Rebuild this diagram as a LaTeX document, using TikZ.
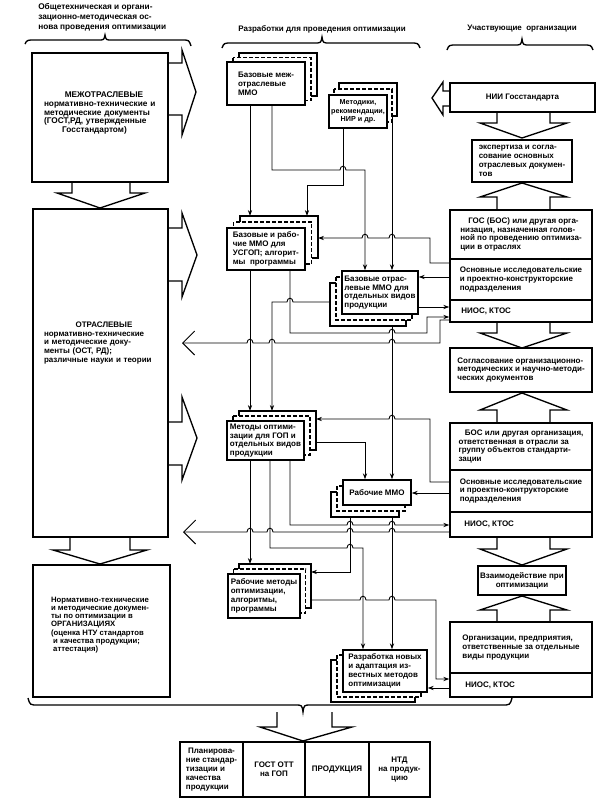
\documentclass[tikz,border=0pt]{standalone}
\usepackage{fontspec}
\setmainfont{Liberation Sans}
\usetikzlibrary{arrows.meta,fit}
\tikzset{
  bx/.style={draw, line width=1.1pt, inner sep=0pt, fill=white},
  layer/.style={draw, line width=0.8pt, fill=white},
  tx/.style={inner sep=0pt, align=center, font=\fontsize{6}{6.6}\selectfont\bfseries},
  txl/.style={tx, align=left},
  txs/.style={tx, font=\fontsize{5.4}{6.4}\selectfont\bfseries},
  ln/.style={line width=0.7pt},
  arr/.style={ln, -{Stealth[length=4.5pt,width=3.2pt]}},
  oarr/.style={ln, -{Straight Barb[length=9pt,width=18pt]}},
  blk/.style={line width=1pt, line join=miter},
  brc/.style={line width=1pt},
}
\newcommand{\stk}[9]{%
  \draw[layer] ({#2+2*(#6)},{#3+2*(#7)}) rectangle ({#4+2*(#6)},{#5+2*(#7)});
  \draw[layer,dash pattern=on 3pt off 1.5pt] ({#2+(#6)},{#3+(#7)}) rectangle ({#4+(#6)},{#5+(#7)});
  \node[bx, fit={(#2,#3)(#4,#5)}] (#1) {};
  \node[#8] (#1-t) at (#1.center) {#9};
}
\begin{document}
\begin{tikzpicture}[x=0.75pt,y=-0.75pt]
\useasboundingbox (0,0) rectangle (602,804);

% ---------- headers ----------
\node[txl, anchor=north west, font=\fontsize{6.2}{7.4}\selectfont\bfseries] (h1) at (38,3)
  {Общетехническая и органи-\\зационно-методическая ос-\\нова проведения оптимизации};
\node[tx] (h2) at (322,29) {Разработки для проведения оптимизации};
\node[tx] (h3) at (522,29) {Участвующие\ \ организации};

\draw[brc] (25,44) .. controls (27,40) .. (35,40) -- (98,40) .. controls (104,40) .. (105,35)
  .. controls (106,40) .. (112,40) -- (182,40) .. controls (189,40) .. (191,46);
\draw[brc] (222,48) .. controls (224,43) .. (232,43) -- (314,43) .. controls (321,43) .. (322,37)
  .. controls (323,43) .. (330,43) -- (410,43) .. controls (418,43) .. (420,48);
\draw[brc] (447,50) .. controls (449,45) .. (457,45) -- (514,45) .. controls (521,45) .. (522,39)
  .. controls (523,45) .. (530,45) -- (583,45) .. controls (591,45) .. (593,50);

% ---------- left column ----------
\node[bx, fit={(32,53)(168,182)}] (L1) {};
\node[txl, text width=90pt, font=\fontsize{6.2}{6.4}\selectfont\bfseries] (L1t) at (104,113)
  {\hspace*{\fill}МЕЖОТРАСЛЕВЫЕ\hspace*{\fill}\null\\нормативно-технические и\\методические документы\\(ГОСТ,РД, утвержденные\\\hspace*{2.2em}Госстандартом)};
\node[bx, fit={(33,209)(168,537)}] (L2) {};
\node[txl, text width=90pt, font=\fontsize{6}{6.4}\selectfont\bfseries] (L2t) at (104,343)
  {\hspace*{\fill}ОТРАСЛЕВЫЕ\hspace*{\fill}\null\\нормативно-технические\\и методические доку-\\менты (ОСТ, РД);\\различные науки и теории};
\node[bx, fit={(33,565)(170,697)}] (L3) {};
\node[txl, font=\fontsize{5.8}{6.1}\selectfont\bfseries] (L3t) at (100,625)
  {Нормативно-технические\\и методические докумен-\\ты по оптимизации в\\ОРГАНИЗАЦИЯХ\\(оценка НТУ стандартов\\\ и качества продукции;\\\ аттестация)};

% block arrows, left column
\draw[blk] (L1.east |- 0,63) -- (182,63) -- (182,50) -- (196,92) -- (182,135) -- (182,115) -- (L1.east |- 0,115);
\draw[blk] (L2.east |- 0,228) -- (182,228) -- (182,213) -- (197,255) -- (182,297) -- (182,281) -- (L2.east |- 0,281);
\draw[blk] (L2.east |- 0,422) -- (182,422) -- (182,397) -- (197,438) -- (182,480) -- (182,465) -- (L2.east |- 0,465);
\draw[blk] (72,0 |- L1.south) -- (72,193) -- (57,193) -- (100,208) -- (145,193) -- (130,193) -- (130,0 |- L1.south);
\draw[blk] (70,0 |- L2.south) -- (70,550) -- (53,550) -- (100,564) -- (147,550) -- (130,550) -- (130,0 |- L2.south);

% ---------- middle column ----------
\stk{M1}{227}{62}{305}{105}{6}{-4.5}{txl}{Базовые меж-\\отраслевые\\ММО}
\stk{M2}{329}{95}{387}{128}{5}{-6}{txs}{Методики,\\рекомендации,\\НИР и др.}
\stk{M3}{227}{228}{305}{270}{6.5}{-6}{txl}{Базовые и рабо-\\чие ММО для\\УСГОП; алгорит-\\мы\ \ программы}
\stk{M4}{342}{271}{418}{314}{-6}{6}{txl}{Базовые отрас-\\левые ММО для\\отдельных видов\\продукции}
\stk{M5}{227}{421}{304}{460}{6}{-5}{txl}{Методы оптими-\\зации для ГОП и\\отдельных видов\\продукции}
\stk{M6}{343}{480}{411}{505}{-6}{6}{tx}{Рабочие ММО}
\stk{M7}{228}{574}{300}{618}{5.5}{-5}{txl}{Рабочие методы\\оптимизации,\\алгоритмы,\\программы}
\stk{M8}{343}{650}{427}{692}{-6}{5}{txl}{Разработка новых\\и адаптация из-\\вестных методов\\оптимизации}

% ---------- right column ----------
\node[bx, fit={(450,83)(595,112)}] (R1) {};
\node[tx] (R1t) at (R1.center) {НИИ Госстандарта};
\node[bx, fit={(472,140)(572,182)}] (R2) {};
\node[txl] (R2t) at (R2.center) {экспертиза и согла-\\сование основных\\отраслевых докумен-\\тов};
\node[bx, fit={(450,210)(592,259)}] (R3a) {};
\node[txl] (R3at) at (R3a.center) {\hspace*{1em}ГОС (БОС) или другая орга-\\низация, назначенная голов-\\ной по проведению оптимиза-\\ции в отраслях};
\node[bx, fit={(450,259)(592,300)}] (R3b) {};
\node[txl] (R3bt) at (R3b.center) {Основные исследовательские\\и проектно-конструкторские\\подразделения};
\node[bx, fit={(450,300)(592,322)}] (R3c) {};
\node[txl, anchor=west] (R3ct) at (461,311) {НИОС, КТОС};
\node[bx, fit={(450,348)(592,392)}] (R4) {};
\node[txl] (R4t) at (R4.center) {Согласование организационно-\\методических и научно-методи-\\ческих документов};
\node[bx, fit={(450,423)(592,470)}] (R5a) {};
\node[txl] (R5at) at (R5a.center) {\hspace*{0.8em}БОС или другая организация,\\ответственная в отрасли за\\группу объектов стандарти-\\зации};
\node[bx, fit={(450,470)(592,512)}] (R5b) {};
\node[txl] (R5bt) at (R5b.center) {Основные исследовательские\\и проектно-контрукторские\\подразделения};
\node[bx, fit={(450,512)(592,537)}] (R5c) {};
\node[txl, anchor=west] (R5ct) at (464,524) {НИОС, КТОС};
\node[bx, fit={(478,566)(566,595)}] (R6) {};
\node[tx] (R6t) at (R6.center) {Взаимодействие при\\оптимизации};
\node[bx, fit={(450,622)(592,673)}] (R7a) {};
\node[txl] (R7at) at (R7a.center) {Организации, предприятия,\\ответственные за отдельные\\виды продукции};
\node[bx, fit={(450,673)(592,697)}] (R7b) {};
\node[txl, anchor=west] (R7bt) at (465,685) {НИОС, КТОС};

% NII block arrow
\draw[blk] (R1.west |- 0,91) -- (443,91) -- (443,82) -- (432,98) -- (443,115) -- (443,106) -- (R1.west |- 0,106);
% right column block arrows
\draw[blk] (497,0 |- R1.south) -- (497,123) -- (480,123) -- (522,138) -- (567,123) -- (550,123) -- (550,0 |- R1.south);
\draw[blk] (497,0 |- R3a.north) -- (497,197) -- (480,197) -- (522,183) -- (567,197) -- (550,197) -- (550,0 |- R3a.north);
\draw[blk] (497,0 |- R3c.south) -- (497,333) -- (480,333) -- (522,348) -- (567,333) -- (550,333) -- (550,0 |- R3c.south);
\draw[blk] (497,0 |- R5a.north) -- (497,410) -- (480,410) -- (522,393) -- (567,410) -- (550,410) -- (550,0 |- R5a.north);
\draw[blk] (497,0 |- R5c.south) -- (497,549) -- (480,549) -- (522,565) -- (567,549) -- (550,549) -- (550,0 |- R5c.south);
\draw[blk] (497,0 |- R7a.north) -- (497,610) -- (480,610) -- (522,596) -- (567,610) -- (550,610) -- (550,0 |- R7a.north);

% ---------- bottom ----------
\draw[brc] (28,698) .. controls (30,705) .. (38,705) -- (295,705) .. controls (302,705) .. (303,712)
  .. controls (304,705) .. (311,705) -- (502,705) .. controls (510,705) .. (512,698);
\node[bx, fit={(180,742)(243,797)}] (B1) {};
\node[bx, fit={(243,742)(305,797)}] (B2) {};
\node[bx, fit={(305,742)(369,797)}] (B3) {};
\node[bx, fit={(369,742)(430,797)}] (B4) {};
\node[txl] (B1t) at (B1.center) {\ Планирова-\\ние стандар-\\тизации и\\качества\\продукции};
\node[tx] (B2t) at (B2.center) {ГОСТ ОТТ\\на ГОП};
\node[tx] (B3t) at (B3.center) {ПРОДУКЦИЯ};
\node[tx] (B4t) at (B4.center) {НТД\\на продук-\\цию};
\draw[blk] (277,712) -- (277,727) -- (260,727) -- (303,741) -- (352,727) -- (332,727) -- (332,712);

% ---------- connectors ----------
\draw[arr] (250,0 |- M1.south) -- (250,216);
\draw[arr] (272,0 |- M1.south) -- (272,170) -- (340,170) .. controls +(0,-5) and +(0,-5) .. (346,170) -- (365,170) -- (365,0 |- M4.north);
\draw[arr] (343,0 |- M2.south) -- (343,185) -- (307,185) -- (307,216);
\draw[arr] (392,116) -- (392,0 |- M4.north);
\draw[arr] (R3b.west |- 0,263) -- (430,263) -- (430,238) -- (395,238) .. controls +(0,-5) and +(0,-5) .. (389,238)
  -- (368,238) .. controls +(0,-5) and +(0,-5) .. (362,238) -- (318,238);
\draw[arr] (R3b.west |- 0,277) -- (M4.east |- 0,277);
\draw[arr] (M4.east |- 0,307) -- (R3c.west |- 0,307);
\draw[arr] (290,0 |- M3.south) -- (290,333) -- (389,333) .. controls +(0,-5) and +(0,-5) .. (395,333) -- (427,333) -- (427,317) -- (R3c.west |- 0,317);
\draw[arr] (330,302) -- (293,302) .. controls +(0,-5) and +(0,-5) .. (287,302) -- (272,302) -- (272,411);
\draw[arr] (250,0 |- M3.south) -- (250,411);
\draw[oarr] (R3c.west |- 0,320) -- (440,320) -- (440,343) -- (395,343) .. controls +(0,-5) and +(0,-5) .. (389,343)
  -- (275,343) .. controls +(0,-5) and +(0,-5) .. (269,343) -- (253,343) .. controls +(0,-5) and +(0,-5) .. (247,343) -- (182,343);
\draw[arr] (R5b.west |- 0,482) -- (430,482) -- (430,419) -- (395,419) .. controls +(0,-5) and +(0,-5) .. (389,419) -- (316,419);
\draw[arr] (392,326) -- (392,0 |- M6.north);
\draw[arr] (316,442) -- (365,442) -- (365,0 |- M6.north);
\draw[arr] (R5b.west |- 0,493) -- (M6.east |- 0,493);
\draw[arr] (250,0 |- M5.south) -- (250,564);
\draw[arr] (290,0 |- M5.south) -- (290,525) -- (347,525) .. controls +(0,-5) and +(0,-5) .. (353,525)
  -- (389,525) .. controls +(0,-5) and +(0,-5) .. (395,525) -- (R5c.west |- 0,525);
\draw[oarr] (R5c.west |- 0,532) -- (395,532) .. controls +(0,-5) and +(0,-5) .. (389,532) -- (353,532) .. controls +(0,-5) and +(0,-5) .. (347,532)
  -- (273,532) .. controls +(0,-5) and +(0,-5) .. (267,532) -- (253,532) .. controls +(0,-5) and +(0,-5) .. (247,532) -- (183,532);
\draw[arr] (350,517) -- (350,572) -- (311,572);
\draw[arr] (270,0 |- M5.south) -- (270,548) -- (347,548) .. controls +(0,-5) and +(0,-5) .. (353,548) -- (363,548) -- (363,0 |- M8.north);
\draw[arr] (392,517) -- (392,0 |- M8.north);
\draw[arr] (311,600) -- (360,600) .. controls +(0,-5) and +(0,-5) .. (366,600) -- (389,600) .. controls +(0,-5) and +(0,-5) .. (395,600)
  -- (436,600) -- (436,679) -- (R7b.west |- 0,679);
\draw[arr] (R7b.west |- 0,688) -- (M8.east |- 0,688);
\end{tikzpicture}
\end{document}
